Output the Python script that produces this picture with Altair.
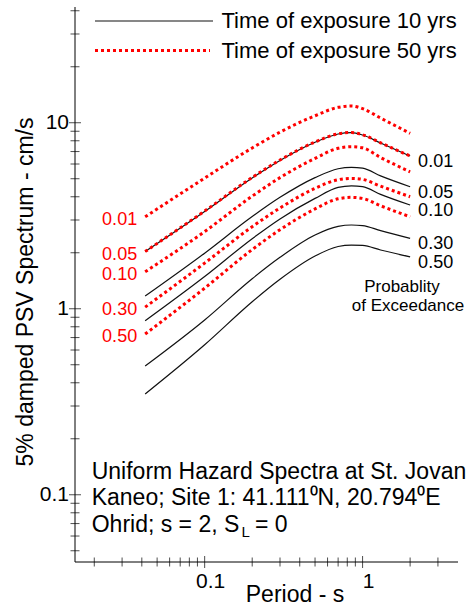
import altair as alt
import pandas as pd

# ---------------- data ----------------
periods = [0.042, 0.1, 0.2, 0.3, 0.5, 0.7, 0.85, 1.0, 1.3, 2.0]
prob_labels = ["0.01", "0.05", "0.10", "0.30", "0.50"]

# time of exposure 10 yrs (solid black)
psv10_p01 = [2.03, 3.33, 5.05, 6.27, 7.85, 8.70, 8.84, 8.59, 7.78, 6.62]
psv10_p05 = [1.17, 1.99, 3.13, 3.97, 5.07, 5.66, 5.76, 5.70, 5.18, 4.53]
psv10_p10 = [0.862, 1.49, 2.38, 3.04, 3.92, 4.49, 4.58, 4.53, 4.12, 3.61]
psv10_p30 = [0.492, 0.87, 1.45, 1.89, 2.49, 2.77, 2.82, 2.80, 2.63, 2.39]
psv10_p50 = [0.348, 0.64, 1.09, 1.44, 1.92, 2.16, 2.20, 2.19, 2.07, 1.90]

# time of exposure 50 yrs (red dotted)
psv50_p01 = [3.12, 5.04, 7.32, 8.90, 10.9, 12.1, 12.3, 11.9, 10.6, 8.77]
psv50_p05 = [2.03, 3.35, 5.08, 6.30, 7.88, 8.72, 8.86, 8.62, 7.80, 6.62]
psv50_p10 = [1.58, 2.60, 4.03, 5.07, 6.43, 7.29, 7.43, 7.33, 6.50, 5.45]
psv50_p30 = [1.02, 1.76, 2.76, 3.48, 4.44, 4.94, 5.02, 4.96, 4.56, 4.00]
psv50_p50 = [0.731, 1.29, 2.08, 2.66, 3.44, 3.90, 3.97, 3.92, 3.58, 3.12]

exposure_labels = ["Time of exposure 10 yrs", "Time of exposure 50 yrs"]

x_major = [0.1, 1]
x_major_labels = ["0.1", "1"]
x_minor = [0.02, 0.03, 0.04, 0.05, 0.06, 0.07, 0.08, 0.09,
           0.2, 0.3, 0.4, 0.5, 0.6, 0.7, 0.8, 0.9, 2, 3]
y_major = [0.1, 1, 10]
y_major_labels = ["0.1", "1", "10"]
y_minor = [0.05, 0.06, 0.07, 0.08, 0.09,
           0.2, 0.3, 0.4, 0.5, 0.6, 0.7, 0.8, 0.9,
           2, 3, 4, 5, 6, 7, 8, 9, 20, 30, 40]

x_title = "Period - s"
y_title = "5% damped PSV Spectrum - cm/s"
note_lines = ["Uniform Hazard Spectra at St. Jovan",
              "Kaneo; Site 1: 41.111\u2070N, 20.794\u2070E",
              "Ohrid; s = 2, S", "L", "= 0"]
prob_title = ["Probablity", "of Exceedance"]

# ---------------- tables ----------------
rows = []
for exp, series in (("10", [psv10_p01, psv10_p05, psv10_p10, psv10_p30, psv10_p50]),
                    ("50", [psv50_p01, psv50_p05, psv50_p10, psv50_p30, psv50_p50])):
    for lab, vals in zip(prob_labels, series):
        for t, v in zip(periods, vals):
            rows.append({"period": t, "psv": v, "exposure": exp, "prob": lab})
curves = pd.DataFrame(rows)

FONT = "Liberation Sans"
W, H = 383, 555
xs = alt.Scale(type="log", domain=[0.0151, 4.02], nice=False)
ys = alt.Scale(type="log", domain=[0.0435, 41.9], nice=False)


def X(field):
    return alt.X(field, scale=xs, axis=None)


def Y(field):
    return alt.Y(field, scale=ys, axis=None)


black = alt.Chart(curves).transform_filter(alt.datum.exposure == "10").mark_line(
    color="#111111", strokeWidth=1.2, interpolate="monotone"
).encode(x=X("period:Q"), y=Y("psv:Q"), detail="prob:N")

red = alt.Chart(curves).transform_filter(alt.datum.exposure == "50").mark_line(
    color="#ff0000", strokeWidth=3, strokeDash=[3, 3], strokeCap="butt",
    interpolate="monotone"
).encode(x=X("period:Q"), y=Y("psv:Q"), detail="prob:N")

right_labels = alt.Chart(curves).transform_filter(
    (alt.datum.exposure == "10") & (alt.datum.period == periods[-1])
).mark_text(font=FONT, fontSize=18, color="black", align="left",
            baseline="middle", dx=8, dy=6).encode(
    x=X("period:Q"), y=Y("psv:Q"), text="prob:N")

left_labels = alt.Chart(curves).transform_filter(
    (alt.datum.exposure == "50") & (alt.datum.period == periods[0])
).mark_text(font=FONT, fontSize=18, color="#ff0000", align="right",
            baseline="middle", dx=-8, dy=3).encode(
    x=X("period:Q"), y=Y("psv:Q"), text="prob:N")

# ---------------- axes (drawn by hand, ticks cross the axis line) ----------------
frame = pd.DataFrame({"k": [0]})
x_domain = alt.Chart(frame).mark_rule(color="black", strokeWidth=1).encode(
    x=alt.value(0), x2=alt.value(W), y=alt.value(H))
y_domain = alt.Chart(frame).mark_rule(color="black", strokeWidth=1).encode(
    x=alt.value(0), y=alt.value(0), y2=alt.value(H))


def xticks(vals, size):
    return alt.Chart(pd.DataFrame({"tx": vals})).mark_tick(
        orient="vertical", size=size, thickness=1, color="black"
    ).encode(x=X("tx:Q"), y=alt.value(H))


def yticks(vals, size):
    return alt.Chart(pd.DataFrame({"ty": vals})).mark_tick(
        orient="horizontal", size=size, thickness=1, color="black"
    ).encode(y=Y("ty:Q"), x=alt.value(0))


x_labels = alt.Chart(pd.DataFrame({"tx": x_major, "lab": x_major_labels})).mark_text(
    font=FONT, fontSize=21, color="black", align="center", baseline="alphabetic", dx=6
).encode(x=X("tx:Q"), y=alt.value(H + 26), text="lab:N")

y_labels = alt.Chart(pd.DataFrame({"ty": y_major, "lab": y_major_labels})).mark_text(
    font=FONT, fontSize=21, color="black", align="right", baseline="middle", dx=-6
).encode(y=Y("ty:Q"), x=alt.value(0), text="lab:N")


def note(text, x, y, size=23, align="left", baseline="alphabetic", angle=0):
    return alt.Chart(pd.DataFrame({"txt": [text]})).mark_text(
        font=FONT, fontSize=size, align=align, baseline=baseline, color="black",
        angle=angle
    ).encode(x=alt.value(x), y=alt.value(y), text="txt:N")


titles = [
    note(x_title, 220, 594.5, align="center"),
    note(y_title, -42, 285, align="center", angle=270),
]

# ---------------- legend ----------------
leg_df = pd.DataFrame({"label": exposure_labels, "key": ["10", "50"]})
leg_black = alt.Chart(leg_df).transform_filter(alt.datum.key == "10").mark_rule(
    color="#111111", strokeWidth=1.2
).encode(x=alt.value(20), x2=alt.value(138), y=alt.value(14))
leg_red = alt.Chart(leg_df).transform_filter(alt.datum.key == "50").mark_rule(
    color="#ff0000", strokeWidth=3, strokeDash=[3, 3], strokeCap="butt"
).encode(x=alt.value(20), x2=alt.value(135), y=alt.value(43.5))
leg_t1 = alt.Chart(leg_df).transform_filter(alt.datum.key == "10").mark_text(
    font=FONT, fontSize=22, align="left", baseline="middle", color="black"
).encode(x=alt.value(146.5), y=alt.value(14), text="label:N")
leg_t2 = alt.Chart(leg_df).transform_filter(alt.datum.key == "50").mark_text(
    font=FONT, fontSize=22, align="left", baseline="middle", color="black"
).encode(x=alt.value(146.5), y=alt.value(43.5), text="label:N")

# ---------------- annotation ----------------
notes = [
    note(note_lines[0], 16.7, 471.5),
    note(note_lines[1], 16.7, 498),
    note(note_lines[2], 16.7, 524.5),
    note(note_lines[3], 166.5, 529.5, size=15),
    note(note_lines[4], 180, 524.5),
    note(prob_title[0], 327, 280, size=17, align="center", baseline="middle"),
    note(prob_title[1], 333, 299, size=17, align="center", baseline="middle"),
]

chart = alt.layer(
    black, red, right_labels, left_labels,
    x_domain, y_domain,
    xticks(x_minor, 9), xticks(x_major, 12),
    yticks(y_minor, 9), yticks(y_major, 12),
    x_labels, y_labels, *titles,
    leg_black, leg_red, leg_t1, leg_t2, *notes,
).properties(
    width=W, height=H,
    autosize=alt.AutoSizeParams(type="none"),
    padding={"left": 75, "top": 7, "right": 12, "bottom": 46},
    background="white",
).configure_view(stroke=None)

chart.save("out.html", embed_options={"renderer": "svg", "actions": False})
